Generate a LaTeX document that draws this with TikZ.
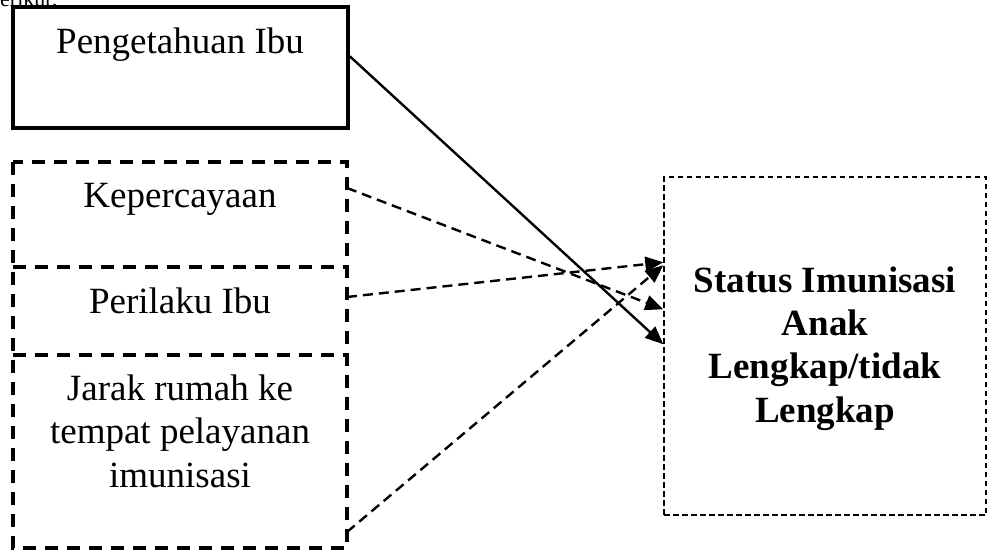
\documentclass[tikz,border=0pt]{standalone}
\usepackage{fontspec}
\setmainfont{Liberation Serif}
\usetikzlibrary{arrows.meta,calc}
\begin{document}
\begin{tikzpicture}[x=1pt,y=-1pt,
  lbl/.style={font=\fontsize{37}{43}\selectfont, anchor=base, inner sep=0pt},
  blbl/.style={font=\fontsize{37}{43}\selectfont\bfseries, anchor=base, inner sep=0pt},
  area/.style={draw=none, inner sep=0pt, outer sep=0pt},
  thickdash/.style={line width=3.4pt, dash pattern=on 13pt off 9pt},
  thindash/.style={line width=1.5pt, dash pattern=on 5.5pt off 3.5pt},
  arr/.style={line width=2.4pt, -{Triangle[length=18pt,width=15pt]}},
  arrdash/.style={arr, dash pattern=on 10pt off 6pt}
]
\useasboundingbox (0,0) rectangle (987,554);
\fill[white] (0,0) rectangle (987,554);

% clipped header text
\node[font=\fontsize{22}{24}\selectfont, anchor=base west, inner sep=0pt] (hdr) at (-11,6) {berikut:};

% Pengetahuan Ibu box
\node[draw, line width=3.5pt, minimum width=335pt, minimum height=121pt, inner sep=0pt] (pk) at (180.5,67.5) {};
\node[lbl] (tpk) at (180,53) {Pengetahuan Ibu};

% left dashed group areas
\node[area, minimum width=334pt, minimum height=105pt] (kp) at (180,214.5) {};
\node[area, minimum width=334pt, minimum height=88pt] (pr) at (180,311) {};
\node[area, minimum width=334pt, minimum height=193pt] (jr) at (180,451.5) {};
\draw[thickdash] (kp.north west) rectangle (jr.south east);
\draw[thickdash] (pr.north west) -- (pr.north east);
\draw[thickdash] (jr.north west) -- (jr.north east);

\node[lbl] (tkp) at (180,207) {Kepercayaan};
\node[lbl] (tpr) at (180,313) {Perilaku Ibu};
\node[lbl] (tj1) at (180,400) {Jarak rumah ke};
\node[lbl] (tj2) at (180,443) {tempat pelayanan};
\node[lbl] (tj3) at (180,487) {imunisasi};

% right box
\node[draw, thindash, minimum width=322pt, minimum height=338pt, inner sep=0pt] (st) at (825,346) {};
\node[blbl] (ts1) at (825,292) {Status Imunisasi};
\node[blbl] (ts2) at (825,335) {Anak};
\node[blbl] (ts3) at (825,378) {Lengkap/tidak};
\node[blbl] (ts4) at (825,422) {Lengkap};

% connectors
\draw[arr] ($(pk.north east)+(0,51)$) -- ($(st.north west)+(0,168)$);
\draw[arrdash] ($(kp.north east)+(0,26)$) -- ($(st.north west)+(0,133)$);
\draw[arrdash] ($(pr.north east)+(0,30)$) -- ($(st.north west)+(0,86)$);
\draw[arrdash] ($(jr.south east)+(0,-16)$) -- ($(st.north west)+(0,89)$);
\end{tikzpicture}
\end{document}
